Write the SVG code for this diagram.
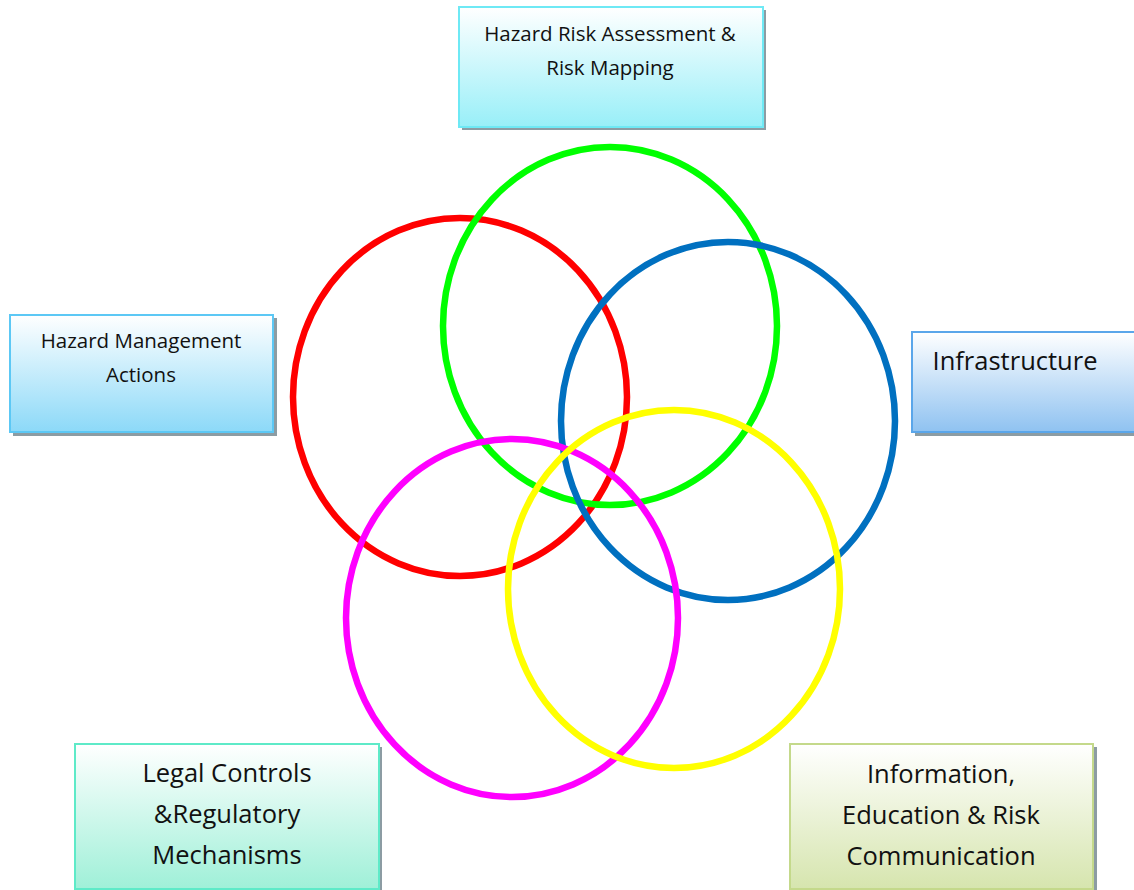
<svg xmlns="http://www.w3.org/2000/svg" width="1134" height="890" viewBox="0 0 1134 890">
<style>
.shadow{fill:#8c9ca3;}
.lbl{font-family:"Open Sans","Liberation Sans",sans-serif;fill:#111;text-anchor:middle;}
.ring{fill:none;stroke-width:6.5;}
</style>
<defs>
<linearGradient id="gTop" x1="0" y1="0" x2="0" y2="1"><stop offset="0" stop-color="#ffffff"/><stop offset="1" stop-color="#98eff8"/></linearGradient>
<linearGradient id="gLeft" x1="0" y1="0" x2="0" y2="1"><stop offset="0" stop-color="#ffffff"/><stop offset="1" stop-color="#8cd9f8"/></linearGradient>
<linearGradient id="gRight" x1="0" y1="0" x2="0" y2="1"><stop offset="0" stop-color="#ffffff"/><stop offset="1" stop-color="#8fc2f1"/></linearGradient>
<linearGradient id="gBL" x1="0" y1="0" x2="0" y2="1"><stop offset="0" stop-color="#ffffff"/><stop offset="1" stop-color="#9ff0d8"/></linearGradient>
<linearGradient id="gBR" x1="0" y1="0" x2="0" y2="1"><stop offset="0" stop-color="#ffffff"/><stop offset="1" stop-color="#d6e5ae"/></linearGradient>
</defs>
<rect width="1134" height="890" fill="#ffffff"/>
<g id="circles">
<ellipse class="ring" cx="460" cy="397" rx="167" ry="179" stroke="#ff0000"/>
<ellipse class="ring" cx="610" cy="326" rx="167" ry="179" stroke="#00ff00"/>
<ellipse class="ring" cx="728" cy="421" rx="167" ry="179" stroke="#0070c0"/>
<ellipse class="ring" cx="512" cy="618" rx="166" ry="179" stroke="#ff00ff"/>
<ellipse class="ring" cx="674" cy="589" rx="166" ry="179" stroke="#ffff00"/>
</g>
<g id="node-top">
<rect class="shadow" x="462" y="10" width="304" height="120"/>
<rect x="459" y="7" width="304" height="120" fill="url(#gTop)" stroke="#6ee9f5" stroke-width="2"/>
<text class="lbl" font-size="20.5" x="610" y="41">Hazard Risk Assessment &amp;</text>
<text class="lbl" font-size="20.5" x="610" y="75">Risk Mapping</text>
</g>
<g id="node-left">
<rect class="shadow" x="13" y="318" width="264" height="118"/>
<rect x="10" y="315" width="263" height="117" fill="url(#gLeft)" stroke="#5cc8f5" stroke-width="2"/>
<text class="lbl" font-size="20.5" x="141" y="348">Hazard Management</text>
<text class="lbl" font-size="20.5" x="141" y="382">Actions</text>
</g>
<g id="node-right">
<rect class="shadow" x="915" y="335" width="222" height="101"/>
<rect x="912" y="332" width="224" height="100" fill="url(#gRight)" stroke="#5aa6ea" stroke-width="2"/>
<text class="lbl" font-size="25.5" x="1015" y="370">Infrastructure</text>
</g>
<g id="node-bottom-left">
<rect class="shadow" x="78" y="747" width="304" height="146"/>
<rect x="75" y="744" width="304" height="145" fill="url(#gBL)" stroke="#5eeac8" stroke-width="2"/>
<text class="lbl" font-size="25.5" x="227" y="782">Legal Controls</text>
<text class="lbl" font-size="25.5" x="227" y="823">&amp;Regulatory</text>
<text class="lbl" font-size="25.5" x="227" y="864">Mechanisms</text>
</g>
<g id="node-bottom-right">
<rect class="shadow" x="793" y="747" width="304" height="146"/>
<rect x="790" y="744" width="303" height="145" fill="url(#gBR)" stroke="#c4d98b" stroke-width="2"/>
<text class="lbl" font-size="25.5" x="941" y="783">Information,</text>
<text class="lbl" font-size="25.5" x="941" y="824">Education &amp; Risk</text>
<text class="lbl" font-size="25.5" x="941" y="865">Communication</text>
</g>
<g id="connectors"/>
</svg>
